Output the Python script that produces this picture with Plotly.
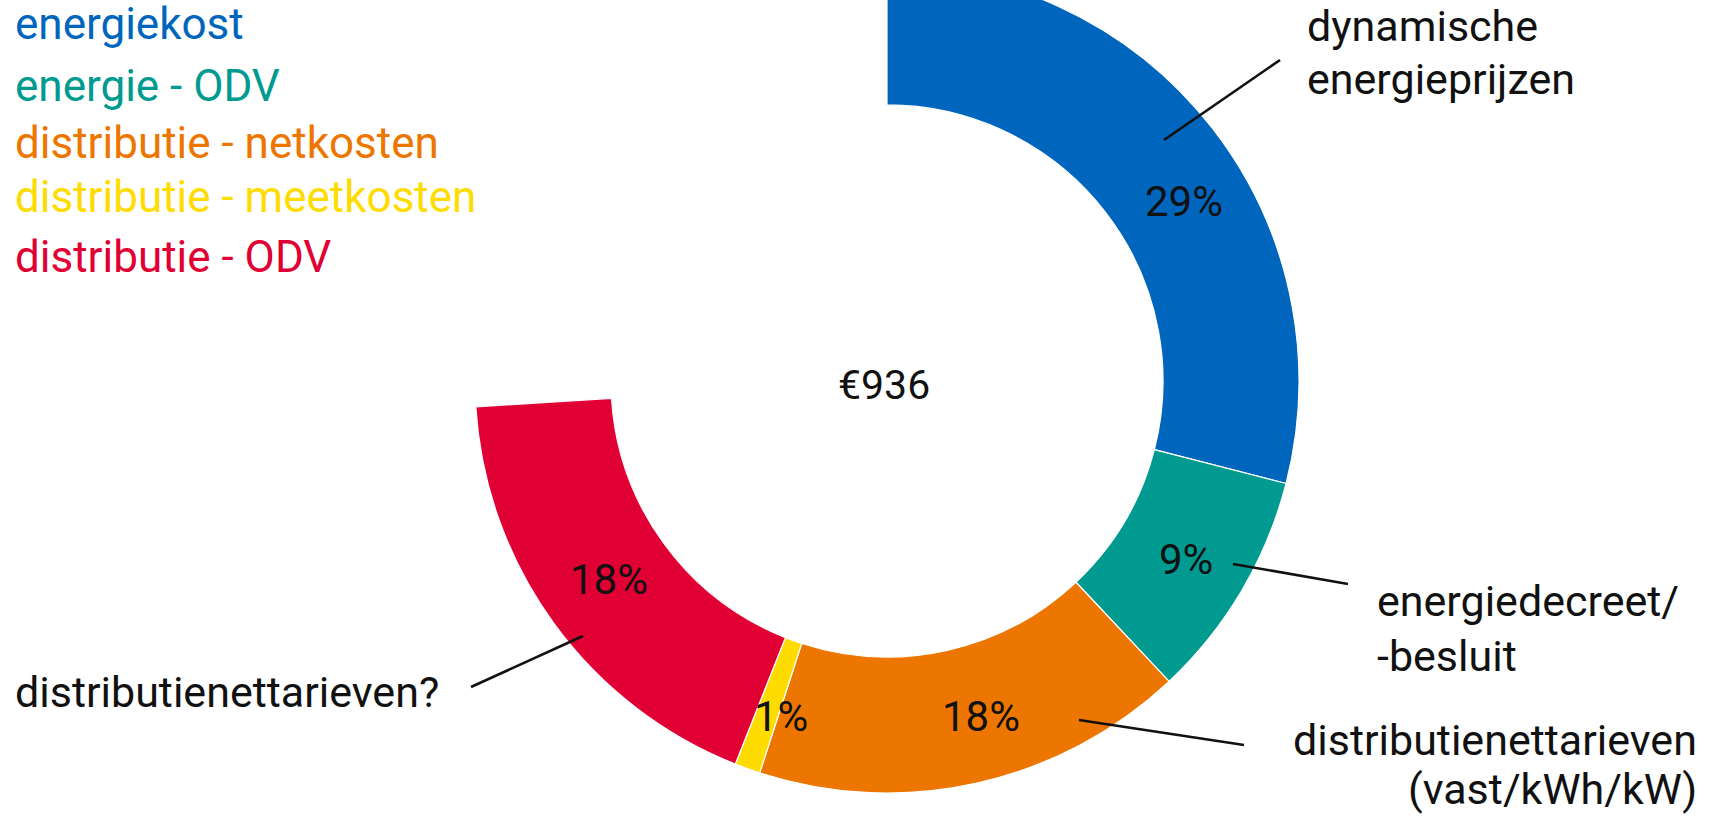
import plotly.graph_objects as go

# ---- data ----
categories = ["energiekost", "energie - ODV", "distributie - netkosten",
              "distributie - meetkosten", "distributie - ODV"]
arc_shares = [29, 9, 17, 1, 18]        # slice sizes as drawn (percent of full circle)
pct_labels = ["29%", "9%", "18%", "1%", "18%"]
colors = ["#0066BD", "#009A91", "#ED7600", "#FFDC00", "#E10034"]
total_label = "€936"
callouts = ["dynamische<br>energieprijzen", "energiedecreet/<br>-besluit",
            "distributienettarieven<br>(vast/kWh/kW)", "distributienettarieven?"]

# page geometry helpers (figure is taller than the window, shifted up)
W, H, SHIFT = 1718, 848, 31


def px(x, y):
    """page pixel -> paper coords"""
    return x / W, 1 - (y + SHIFT) / H


cx, cy, R = 887, 381, 412
blank = 100 - sum(arc_shares)

fig = go.Figure()
fig.add_trace(go.Pie(
    values=arc_shares + [blank],
    labels=categories + [""],
    sort=False, direction="clockwise", rotation=0,
    hole=0.67,
    marker=dict(colors=colors + ["rgba(0,0,0,0)"],
                line=dict(color="white", width=[1.2] * len(arc_shares) + [0])),
    textinfo="none", hoverinfo="skip", showlegend=False,
    domain=dict(x=[(cx - R) / W, (cx + R) / W],
                y=[1 - (cy + SHIFT + R) / H, 1 - (cy + SHIFT - R) / H]),
))

ann = []
FONT = "Roboto, 'Open Sans', sans-serif"

# legend-like coloured titles
leg_y = [24, 86, 143, 197, 257]
for name, col, y in zip(categories, colors, leg_y):
    x0, y0 = px(13, y)
    ann.append(dict(x=x0, y=y0, text=name, showarrow=False, xanchor="left", yanchor="middle",
                    font=dict(family=FONT, size=44, color=col)))

# percentages
pct_pos = [(1184, 201), (1186, 559), (981, 716), (781, 716), (609, 579)]
for t, (x, y) in zip(pct_labels, pct_pos):
    x0, y0 = px(x, y)
    ann.append(dict(x=x0, y=y0, text=t, showarrow=False, xanchor="center", yanchor="middle",
                    font=dict(family=FONT, size=42, color="#111")))

# centre total
x0, y0 = px(884, 385)
ann.append(dict(x=x0, y=y0, text=total_label, showarrow=False,
                font=dict(family=FONT, size=41, color="#111")))

# callout texts
c1 = callouts[0].split("<br>")
c2 = callouts[1].split("<br>")
c3 = callouts[2].split("<br>")
text_specs = [
    (c1[0], 1305, 26, "left"), (c1[1], 1305, 79, "left"),
    (c2[0], 1375, 601, "left"), (c2[1], 1375, 656, "left"),
    (c3[0], 1699, 740, "right"), (c3[1], 1699, 789, "right"),
    (callouts[3], 13, 692, "left"),
]
for t, x, y, anc in text_specs:
    x0, y0 = px(x, y)
    ann.append(dict(x=x0, y=y0, text=t, showarrow=False, xanchor=anc, yanchor="middle",
                    font=dict(family=FONT, size=43, color="#111")))

# leader lines
lines = [((1164, 140), (1280, 60)), ((1233, 564), (1348, 584)),
         ((1079, 720), (1244, 745)), ((583, 636), (471, 687))]
shapes = []
for (xa, ya), (xb, yb) in lines:
    x0, y0 = px(xa, ya)
    x1, y1 = px(xb, yb)
    shapes.append(dict(type="line", xref="paper", yref="paper", x0=x0, y0=y0, x1=x1, y1=y1,
                       line=dict(color="#111", width=2.6)))

fig.update_layout(width=W, height=H, margin=dict(l=0, r=0, t=0, b=0),
                  paper_bgcolor="white", plot_bgcolor="white",
                  annotations=ann, shapes=shapes)

post = ("document.body.style.margin='0';document.body.style.overflow='hidden';"
        "document.getElementById('{plot_id}').style.marginTop='-%dpx';" % SHIFT)
fig.write_html("out.html", post_script=post)
